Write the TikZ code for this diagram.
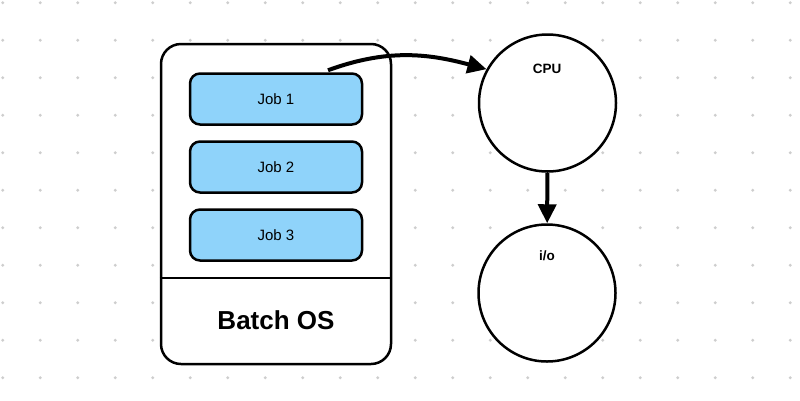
\documentclass[tikz,border=0pt]{standalone}
\usepackage{fontspec}
\setmainfont{Liberation Sans}
\usetikzlibrary{arrows.meta,positioning}
\definecolor{figline}{RGB}{0,0,0}
\definecolor{figjob}{RGB}{143,211,250}
\definecolor{figdot}{RGB}{206,206,206}
\tikzset{
  osbox/.style  ={draw=figline, fill=white, line width=2.5pt, rounded corners=20pt, minimum width=230pt, minimum height=320pt},
  jobbox/.style ={draw=figline, fill=figjob, line width=2.5pt, rounded corners=10pt, minimum width=172pt, minimum height=51pt, font=\fontsize{15}{17}\selectfont},
  unit/.style   ={draw=figline, fill=white, line width=2.5pt, circle, minimum size=137pt},
  ulab/.style   ={font=\fontsize{13.5}{15}\selectfont\bfseries, inner sep=1pt},
  oslab/.style  ={font=\fontsize{26}{29}\selectfont\bfseries, inner sep=1pt},
  sep/.style    ={draw=figline, line width=2.5pt},
  flow/.style   ={draw=figline, line width=4pt, -{Triangle[length=19pt,width=18pt]}},
}

\begin{document}
\begin{tikzpicture}[x=1pt,y=-1pt]
  \useasboundingbox[fill=white] (0,0) rectangle (800,400);
  % dotted background
  \foreach \i in {0,...,21}
    \foreach \j in {0,...,10}
      \fill[figdot] (2.7+37.5*\i,2.7+37.5*\j) circle (1.6pt);
  % batch system
  \node[osbox] (os) at (276,204) {};
  \coordinate (divy) at (0,278);
  \draw[sep] (os.west |- divy) -- (os.east |- divy);
  \node[oslab] (oslabel) at (276,320) {Batch OS};
  \node[jobbox] (job1) at (276,99) {Job 1};
  \node[jobbox] (job2) at (276,167) {Job 2};
  \node[jobbox] (job3) at (276,235) {Job 3};
  % units
  \node[unit] (cpu) at (547.5,103) {};
  \node[ulab] (cpulab) at (547,69) {CPU};
  \node[unit] (io) at (547,293) {};
  \node[ulab] (iolab) at (547,256) {i/o};
  % arrows
  \draw[flow] ([xshift=52pt,yshift=2pt]job1.north) to[out=20,in=165] (cpu.151);
  \draw[flow] (cpu) -- (io);
\end{tikzpicture}
\end{document}
